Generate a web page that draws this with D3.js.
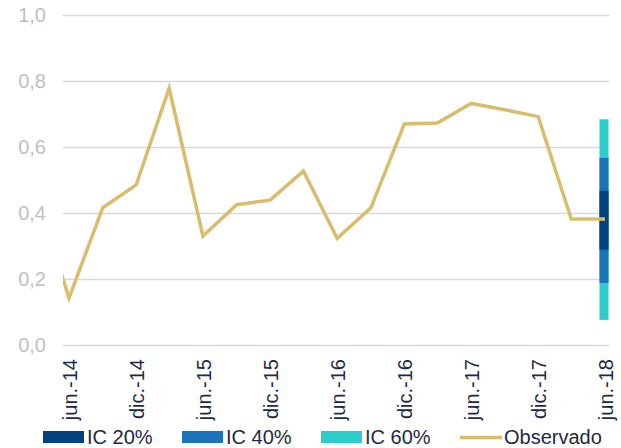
<!DOCTYPE html>
<html>
<head>
<meta charset="utf-8">
<script src="https://cdn.jsdelivr.net/npm/d3@7"></script>
<style>
  body { margin: 0; background: #fff; }
  text { font-family: "Liberation Sans", Arial, sans-serif; }
</style>
</head>
<body>
<div id="chart"></div>
<script>
// serie observada (trimestral)
var fechas = ["2014-03", "2014-06", "2014-09", "2014-12", "2015-03", "2015-06", "2015-09", "2015-12",
  "2016-03", "2016-06", "2016-09", "2016-12", "2017-03", "2017-06", "2017-09", "2017-12", "2018-03", "2018-06"];
var observado = [0.47, 0.142, 0.416, 0.485, 0.778, 0.330, 0.425, 0.439,
  0.527, 0.323, 0.416, 0.670, 0.673, 0.732, 0.713, 0.692, 0.382, 0.382];

// etiquetas del eje x
var fechasEtiquetas = ["2014-06", "2014-12", "2015-06", "2015-12", "2016-06", "2016-12", "2017-06", "2017-12", "2018-06"];
var etiquetasX = ["jun.-14", "dic.-14", "jun.-15", "dic.-15", "jun.-16", "dic.-16", "jun.-17", "dic.-17", "jun.-18"];
var ticksY = [0, 0.2, 0.4, 0.6, 0.8, 1.0];

// intervalos de confianza en la ultima fecha
var icFecha = "2018-06";
var icNombres = ["IC 60%", "IC 40%", "IC 20%"];
var icInferior = [0.076, 0.188, 0.289];
var icSuperior = [0.684, 0.567, 0.467];

var width = 621;
var height = 448;
var plotLeft = 63;
var plotRight = 609;
var plotTop = 15;
var plotBottom = 345;

var colores = { "IC 20%": "#00427f", "IC 40%": "#1b73b9", "IC 60%": "#2dcdcb" };
var colorLinea = "#d9bd6d";
var colorTexto = "#1c2a47";

var parse = d3.timeParse("%Y-%m");

var svg = d3.select("#chart").append("svg")
  .attr("width", width)
  .attr("height", height);

// jun.-14 y jun.-18 quedan un poco dentro del area del grafico
var xScale = d3.scaleTime()
  .domain([parse("2014-06"), parse("2018-06")])
  .range([plotLeft + 6, plotRight - 4]);

var yScale = d3.scaleLinear()
  .domain([0, 1])
  .range([plotBottom, plotTop]);

svg.append("defs").append("clipPath")
  .attr("id", "clip")
  .append("rect")
  .attr("x", plotLeft)
  .attr("y", 0)
  .attr("width", plotRight - plotLeft)
  .attr("height", plotBottom + 5);

// grilla y etiquetas eje y
var yAxis = d3.axisLeft(yScale)
  .tickValues(ticksY)
  .tickSize(-(plotRight - plotLeft))
  .tickPadding(17)
  .tickFormat(function(d) { return d3.format(".1f")(d).replace(".", ","); });

var gy = svg.append("g")
  .attr("transform", "translate(" + plotLeft + ",0)")
  .call(yAxis);
gy.select(".domain").remove();
gy.selectAll("line").attr("stroke", "#d9d9d9").attr("stroke-width", 1.3);
gy.selectAll("text")
  .attr("fill", "#bfbfbf")
  .style("font-size", "20px");

// eje x
var xAxis = d3.axisBottom(xScale)
  .tickValues(fechasEtiquetas.map(parse))
  .tickSize(0)
  .tickFormat(function(d, i) { return etiquetasX[i]; });

var gx = svg.append("g")
  .attr("transform", "translate(0," + plotBottom + ")")
  .call(xAxis);
gx.select(".domain").remove();
gx.selectAll("text")
  .attr("fill", colorTexto)
  .style("font-size", "20px")
  .attr("text-anchor", "end")
  .attr("transform", "rotate(-90)")
  .attr("x", -14)
  .attr("y", 0)
  .attr("dy", "0.36em");

// barras de intervalos
var icData = icNombres.map(function(n, i) {
  return { nombre: n, lo: icInferior[i], hi: icSuperior[i] };
});

svg.append("g")
  .selectAll("rect")
  .data(icData)
  .join("rect")
  .attr("x", xScale(parse(icFecha)) - 5.5)
  .attr("width", 9)
  .attr("y", function(d) { return yScale(d.hi); })
  .attr("height", function(d) { return yScale(d.lo) - yScale(d.hi); })
  .attr("fill", function(d) { return colores[d.nombre]; });

// linea observada
var serie = fechas.map(function(f, i) { return { date: parse(f), value: observado[i] }; });

svg.append("path")
  .datum(serie)
  .attr("clip-path", "url(#clip)")
  .attr("fill", "none")
  .attr("stroke", colorLinea)
  .attr("stroke-width", 3.5)
  .attr("d", d3.line()
    .x(function(d) { return xScale(d.date); })
    .y(function(d) { return yScale(d.value); }));

// leyenda
var leyenda = [
  { nombre: "IC 20%", tipo: "rect", x: 43 },
  { nombre: "IC 40%", tipo: "rect", x: 182 },
  { nombre: "IC 60%", tipo: "rect", x: 321 },
  { nombre: "Observado", tipo: "line", x: 460 }
];

var gl = svg.append("g");
leyenda.forEach(function(l) {
  if (l.tipo === "rect") {
    gl.append("rect")
      .attr("x", l.x)
      .attr("y", 431)
      .attr("width", 41)
      .attr("height", 12)
      .attr("fill", colores[l.nombre]);
  } else {
    gl.append("line")
      .attr("x1", l.x)
      .attr("x2", l.x + 42)
      .attr("y1", 437.5)
      .attr("y2", 437.5)
      .attr("stroke", colorLinea)
      .attr("stroke-width", 3.5);
  }
  gl.append("text")
    .attr("x", l.x + 44)
    .attr("y", 444)
    .attr("fill", colorTexto)
    .style("font-size", "20px")
    .text(l.nombre);
});
</script>
</body>
</html>
